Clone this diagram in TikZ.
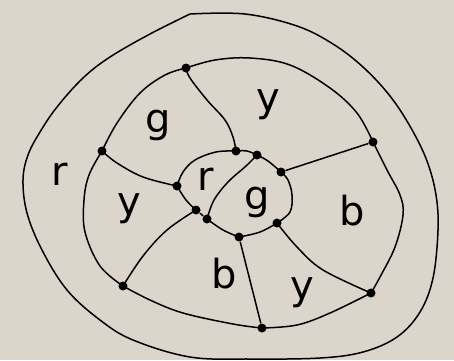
\documentclass[tikz,border=0pt]{standalone}
\usepackage{fontspec}
\setmainfont{DejaVu Sans}
\definecolor{paper}{RGB}{220,213,203}
\begin{document}
\begin{tikzpicture}[x=1pt,y=-1pt,
  line width=1.5pt, line join=round, line cap=round,
  dot/.style={circle,fill=black,draw=none,inner sep=0pt,minimum size=9pt},
  lab/.style={font=\fontsize{40}{40}\selectfont,inner sep=0pt},
  curve/.style={smooth,tension=0.6}]
\fill[paper] (0,0) rectangle (454,360);
\useasboundingbox (0,0) rectangle (454,360);
% outer boundary
\draw plot[curve] coordinates {(190,14) (245,14) (297,26) (333,44) (363,67) (390,96) (411,128) (427,161) (436,195) (438,230) (433,278) (420,312) (397,337) (363,352) (320,358) (250,359) (190,357) (133,340) (100,320) (67,290) (42,250) (27,213) (23,180) (28,155) (40,132) (57,107) (83,78) (110,57) (150,34) (190,14)};
% vertices of the middle ring
\node[dot] (A) at (186,68) {};
\node[dot] (B) at (373,142) {};
\node[dot] (C) at (371,293) {};
\node[dot] (D) at (262,328) {};
\node[dot] (E) at (123,286) {};
\node[dot] (F) at (102,151) {};
% vertices of the inner loop
\node[dot] (G) at (236,151) {};
\node[dot] (H) at (257,155) {};
\node[dot] (I) at (281,172) {};
\node[dot] (J) at (277,223) {};
\node[dot] (K) at (239,237) {};
\node[dot] (L) at (207,219) {};
\node[dot] (M) at (196,210) {};
\node[dot] (N) at (177,186) {};
% middle ring
\draw plot[curve] coordinates {(A) (215,60) (250,58) (290,65) (330,88) (357,113) (B)};
\draw plot[curve] coordinates {(B) (387,170) (400,195) (403,215) (395,247) (380,277) (C)};
\draw plot[curve] coordinates {(C) (330,313) (297,325) (D)};
\draw plot[curve] coordinates {(D) (233,324) (183,313) (150,300) (E)};
\draw plot[curve] coordinates {(E) (100,266) (85,232) (84,200) (89,175) (F)};
\draw plot[curve] coordinates {(F) (117,123) (140,93) (165,75) (A)};
% inner loop
\draw plot[curve] coordinates {(G) (247,151) (H)};
\draw plot[curve] coordinates {(H) (268,161) (I)};
\draw plot[curve] coordinates {(I) (288,180) (292,195) (290,212) (J)};
\draw plot[curve] coordinates {(J) (260,232) (K)};
\draw plot[curve] coordinates {(K) (223,230) (L)};
\draw (L) -- (M);
\draw plot[curve] coordinates {(M) (186,200) (N)};
\draw plot[curve] coordinates {(N) (183,172) (195,160) (216,152) (G)};
\draw plot[curve] coordinates {(H) (246,166) (228,182) (214,200) (L)};
% spokes
\draw plot[curve] coordinates {(A) (190,78) (207,100) (225,120) (233,137) (G)};
\draw plot[curve] coordinates {(F) (117,163) (143,177) (N)};
\draw (B) -- (I);
\draw plot[curve] coordinates {(E) (143,256) (167,230) (M)};
\draw (D) -- (K);
\draw plot[curve] coordinates {(C) (323,270) (297,247) (J)};
% labels
\node[lab] (l1) at (60,174) {r};
\node[lab] (l2) at (158,125) {g};
\node[lab] (l3) at (268,105) {y};
\node[lab] (l4) at (206,179) {r};
\node[lab] (l5) at (257,202) {g};
\node[lab] (l6) at (352,211) {b};
\node[lab] (l7) at (129,209) {y};
\node[lab] (l8) at (224,274) {b};
\node[lab] (l9) at (302,293) {y};
\end{tikzpicture}
\end{document}
